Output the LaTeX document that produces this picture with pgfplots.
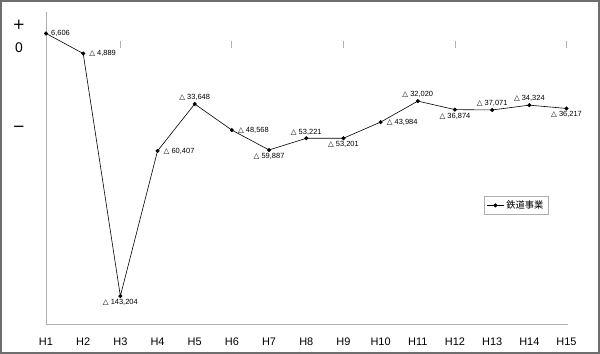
\documentclass[border=0pt]{standalone}
\usepackage{pgfplots}
\pgfplotsset{compat=1.18}
\usepackage{fontspec}
\setmainfont{Liberation Sans}
\newfontfamily\dejavu{DejaVu Sans}
\newfontfamily\jp{Noto Sans CJK JP}
\protected\def\tri{{\dejavu △}}
\definecolor{axgray}{RGB}{175,175,175}
\definecolor{frame}{RGB}{110,110,110}
\begin{document}
\begin{tikzpicture}
\draw[frame, line width=2bp] (1bp,1bp) rectangle (599bp,353bp);
\begin{axis}[
  at={(46bp,29bp)}, anchor=south west,
  scale only axis, width=522bp, height=313bp,
  xmin=1, xmax=15.04, ymin=-159.7, ymax=18.8,
  axis x line*=bottom, axis y line*=left,
  axis line style={axgray, line width=1bp, -},
  xtick={1,...,15},
  xticklabels={H1,H2,H3,H4,H5,H6,H7,H8,H9,H10,H11,H12,H13,H14,H15},
  xticklabel style={font=\fontsize{11}{13}\selectfont, yshift=-9bp},
  ytick={11.4,-1.7,-48},
  yticklabels={{\dejavu\fontsize{15}{17}\selectfont +},0,{\dejavu\fontsize{15}{17}\selectfont −}},
  yticklabel style={font=\fontsize{14}{16}\selectfont, anchor=center, xshift=-27bp},
  major tick length=0pt,
  clip=false,
  legend style={at={(rel axis cs:0.9617,0.412)}, anchor=north east, draw=axgray,
     font=\jp\fontsize{9.3}{11}\selectfont, inner sep=2.5bp},
  legend cell align=left,
]
\addplot[black, line width=0.6bp, mark=*, mark size=1.7bp, mark options={solid}]
  coordinates {(1,6.606)(2,-4.889)(3,-143.204)(4,-60.407)(5,-33.648)(6,-48.568)(7,-59.887)(8,-53.221)(9,-53.201)(10,-43.984)(11,-32.020)(12,-36.874)(13,-37.071)(14,-34.324)(15,-36.217)};
\addlegendentry{鉄道事業}
\addplot[draw=none, forget plot, point meta=explicit symbolic,
  nodes near coords={\tri\ \pgfplotspointmeta},
  visualization depends on={value \thisrow{anc} \as \myanc},
  every node near coord/.append style={anchor=\myanc, font=\fontsize{7.5}{9}\selectfont, inner xsep=6bp, inner ysep=3bp}]
  table[meta=lab] {
x y lab anc
2 -4.889 4,889 west
3 -143.204 143,204 north
4 -60.407 60,407 west
5 -33.648 33,648 south
6 -48.568 48,568 west
7 -59.887 59,887 north
8 -53.221 53,221 south
9 -53.201 53,201 north
10 -43.984 43,984 west
11 -32.020 32,020 south
12 -36.874 36,874 north
13 -37.071 37,071 south
14 -34.324 34,324 south
15 -36.217 36,217 north
};
\addplot[draw=none, forget plot, point meta=explicit symbolic,
  nodes near coords={\pgfplotspointmeta},
  every node near coord/.append style={anchor=west, font=\fontsize{7.5}{9}\selectfont, inner xsep=5bp}]
  table[meta=lab] {
x y lab
1 6.606 6,606
};
\addplot[axgray, forget plot, only marks, mark=|, mark size=3.5bp, line width=0.8bp]
  coordinates {(3,0)(6,0)(9,0)(12,0)(15,0)};
\end{axis}
\end{tikzpicture}
\end{document}
